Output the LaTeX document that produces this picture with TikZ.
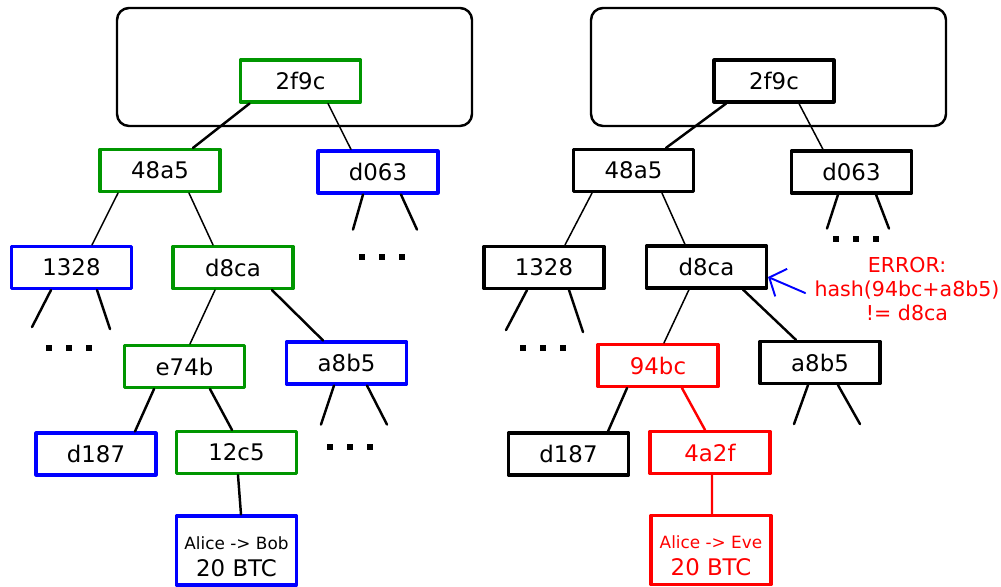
\documentclass[tikz,border=0pt]{standalone}
\usepackage{fontspec}
\setmainfont{DejaVu Sans}
\usetikzlibrary{arrows.meta}
\definecolor{hgreen}{RGB}{0,150,0}
\tikzset{
  hbox/.style={draw, line width=1.8pt, minimum width=2.4cm, minimum height=0.84cm, inner sep=0pt, font=\fontsize{13}{15}\selectfont},
  okbox/.style={hbox, draw=hgreen},
  sibbox/.style={hbox, draw=blue},
  badbox/.style={hbox, draw=red, text=red},
  txbox/.style={minimum height=1.38cm, align=center, font=\fontsize{13}{15.3}\selectfont},
  blockrect/.style={line width=1.4pt, rounded corners=0.24cm},
  thinlink/.style={line width=0.85pt},
  boldlink/.style={line width=1.4pt},
  stub/.style={line width=1.4pt},
  errtext/.style={text=red, align=center, inner sep=0pt, font=\fontsize{11.7}{13.9}\selectfont},
  errarrow/.style={blue, line width=1.1pt, -{Straight Barb[length=0.26cm,width=0.6cm]}}
}
\begin{document}
\begin{tikzpicture}[x=0.02cm, y=-0.02cm, line cap=round, line join=round]
	\useasboundingbox (0,0) rectangle (1001,587);
	% block headers
	\draw[blockrect] (117,8) rectangle (472,126);
	\draw[blockrect] (591,8) rectangle (946,126);
	% left tree: honest
	\node[okbox]  (l2f9c) at (300.5,81) {2f9c};
	\node[okbox]  (l48a5) at (160,170.5) {48a5};
	\node[sibbox] (ld063) at (378,172) {d063};
	\node[sibbox] (l1328) at (71.5,267.5) {1328};
	\node[okbox]  (ld8ca) at (233,267.5) {d8ca};
	\node[okbox]  (le74b) at (184.5,366.5) {e74b};
	\node[sibbox] (la8b5) at (346.5,363) {a8b5};
	\node[sibbox] (ld187) at (96,454) {d187};
	\node[okbox]  (l12c5) at (236.5,452.5) {12c5};
	\node[sibbox, txbox] (ltx) at (236.5,550.5) {\rule{0pt}{14pt}{\fontsize{9.6}{11.5}\selectfont Alice -> Bob}\\20 BTC};
	\draw[boldlink] ([xshift=-1.02cm]l2f9c.south) -- ([xshift=0.66cm]l48a5.north);
	\draw[thinlink] ([xshift=0.55cm]l2f9c.south) -- ([xshift=-0.54cm]ld063.north);
	\draw[thinlink] ([xshift=-0.84cm]l48a5.south) -- ([xshift=0.41cm]l1328.north);
	\draw[thinlink] ([xshift=0.58cm]l48a5.south) -- ([xshift=-0.4cm]ld8ca.north);
	\draw[thinlink] ([xshift=-0.36cm]ld8ca.south) -- ([xshift=0.11cm]le74b.north);
	\draw[boldlink] ([xshift=0.78cm]ld8ca.south) -- ([xshift=-0.47cm]la8b5.north);
	\draw[boldlink] ([xshift=-0.61cm]le74b.south) -- ([xshift=0.78cm]ld187.north);
	\draw[boldlink] ([xshift=0.51cm]le74b.south) -- ([xshift=-0.09cm]l12c5.north);
	\draw[boldlink] ([xshift=0.03cm]l12c5.south) -- ([xshift=0.09cm]ltx.north);
	\draw[stub] ([xshift=-0.41cm]l1328.south) -- ++(-19,37) ([xshift=0.51cm]l1328.south) -- ++(13,39);
	\draw[stub] ([xshift=-0.3cm]ld063.south) -- ++(-10,35) ([xshift=0.46cm]ld063.south) -- ++(16,35);
	\draw[stub] ([xshift=-0.25cm]la8b5.south) -- ++(-13,39) ([xshift=0.41cm]la8b5.south) -- ++(20,39);
	% right tree: tampered
	\node[hbox]  (r2f9c) at (774,81) {2f9c};
	\node[hbox]  (r48a5) at (633.5,170.5) {48a5};
	\node[hbox]  (rd063) at (851.5,172) {d063};
	\node[hbox]  (r1328) at (544,267.5) {1328};
	\node[hbox]  (rd8ca) at (706.5,267) {d8ca};
	\node[badbox] (r94bc) at (658,365.5) {94bc};
	\node[hbox]  (ra8b5) at (820,362.5) {a8b5};
	\node[hbox]  (rd187) at (568.5,454) {d187};
	\node[badbox] (r4a2f) at (710,452.5) {4a2f};
	\node[badbox, txbox] (rtx) at (711,550) {\rule{0pt}{14pt}{\fontsize{9.6}{11.5}\selectfont Alice -> Eve}\\20 BTC};
	\draw[boldlink] ([xshift=-0.96cm]r2f9c.south) -- ([xshift=0.65cm]r48a5.north);
	\draw[thinlink] ([xshift=0.5cm]r2f9c.south) -- ([xshift=-0.57cm]rd063.north);
	\draw[thinlink] ([xshift=-0.83cm]r48a5.south) -- ([xshift=0.42cm]r1328.north);
	\draw[thinlink] ([xshift=0.57cm]r48a5.south) -- ([xshift=-0.43cm]rd8ca.north);
	\draw[thinlink] ([xshift=-0.35cm]rd8ca.south) -- ([xshift=0.12cm]r94bc.north);
	\draw[boldlink] ([xshift=0.73cm]rd8ca.south) -- ([xshift=-0.48cm]ra8b5.north);
	\draw[boldlink] ([xshift=-0.62cm]r94bc.south) -- ([xshift=0.79cm]rd187.north);
	\draw[boldlink, red] ([xshift=0.48cm]r94bc.south) -- ([xshift=-0.1cm]r4a2f.north);
	\draw[boldlink, red] ([xshift=0.04cm]r4a2f.south) -- ([xshift=0.02cm]rtx.north);
	\draw[stub] ([xshift=-0.34cm]r1328.south) -- ++(-21,40) ([xshift=0.5cm]r1328.south) -- ++(14,42);
	\draw[stub] ([xshift=-0.27cm]rd063.south) -- ++(-11,34) ([xshift=0.49cm]rd063.south) -- ++(13,34);
	\draw[stub] ([xshift=-0.24cm]ra8b5.south) -- ++(-14,39) ([xshift=0.36cm]ra8b5.south) -- ++(22,39);
	% dots
	\foreach \x/\y in {69/348, 382/257, 350/447, 543/348, 856/239}
		\foreach \i in {-20,0,20}
			\fill (\x+\i-3,\y-3) rectangle ++(6,6);
	% error
	\node[errtext] (err) at (907,289) {ERROR:\\hash(94bc+a8b5)\\!= d8ca};
	\draw[errarrow] ([xshift=-0.18cm,yshift=-0.08cm]err.west) -- ([yshift=-0.2cm]rd8ca.east);
\end{tikzpicture}
\end{document}
